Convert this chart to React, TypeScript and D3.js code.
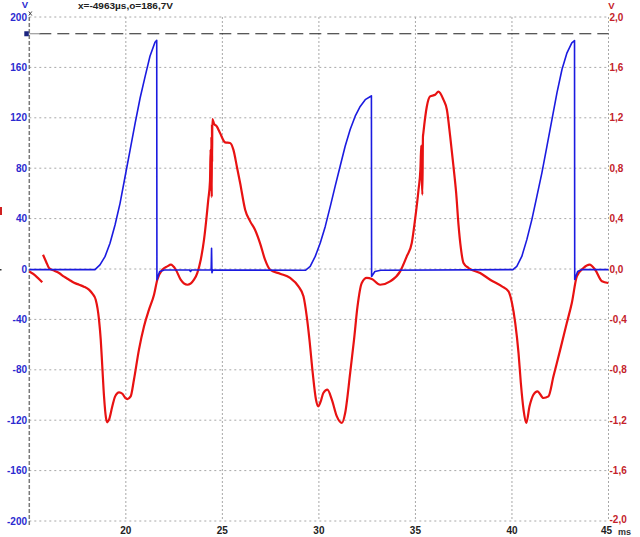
import React from "react";
import * as d3 from "d3";

// Time axis (ms) and axis ticks
const xTicks = [20, 25, 30, 35, 40, 45];
const leftTicks = [-200, -160, -120, -80, -40, 0, 40, 80, 120, 160, 200];
const rightTicks = [-2, -1.6, -1.2, -0.8, -0.4, 0, 0.4, 0.8, 1.2, 1.6, 2];
const cursorValue = 186.7;
const titleText = "x=-4963µs,o=186,7V";

// Blue channel (left axis, V): [t ms, V]
const blueSeries: [number, number][] = [
  [15, -0.5], [18.4, -0.5], [18.66, 3.3], [18.92, 9.8], [19.18, 20.4], [19.44, 34.9],
  [19.7, 52.1], [19.96, 73.2], [20.22, 94.4], [20.48, 115.6], [20.74, 135.7], [21.0, 152.9],
  [21.25, 168.8], [21.51, 180], [21.6, 181.5], [21.61, -8.5], [21.75, -2], [22.0, -0.8],
  [23.3, -0.8], [23.35, -2], [23.4, -0.8], [24.42, -0.8], [24.44, 16.5], [24.46, -3], [24.5, -0.8],
  [29.3, -1], [29.55, 2.0], [29.81, 10], [30.07, 20.6], [30.33, 33.8], [30.59, 49.7],
  [30.84, 65.6], [31.1, 81.5], [31.36, 97.4], [31.62, 110.7], [31.88, 121.3], [32.14, 129],
  [32.4, 134.4], [32.69, 137.1], [32.72, 137.5], [32.73, -6], [32.9, -2], [33.2, -1],
  [40.05, -0.5], [40.25, 2], [40.51, 10], [40.77, 23.3], [41.03, 39.2], [41.29, 57.7],
  [41.55, 76.3], [41.81, 97.4], [42.07, 118.6], [42.33, 139.8], [42.59, 158.3], [42.85, 171.6],
  [43.1, 179.5], [43.24, 181.3], [43.25, -8.3], [43.4, -2], [43.6, -0.5], [45, -0.5],
];

// Red channel (right axis, V): [t ms, V]; null marks a gap in the trace
const redSeries: ([number, number] | null)[] = [
  [15.0, -0.02], [15.3, -0.05], [15.67, -0.106],
  null,
  [15.71, 0.113], [15.87, 0.058], [16.02, 0.008], [16.28, -0.013], [16.54, -0.032], [16.8, -0.061],
  [17.06, -0.085], [17.32, -0.109], [17.58, -0.125], [17.83, -0.14], [18.09, -0.164], [18.27, -0.196],
  [18.44, -0.244], [18.61, -0.402], [18.7, -0.561], [18.78, -0.772], [18.87, -1.01], [18.97, -1.18],
  [19.04, -1.217], [19.13, -1.196], [19.3, -1.09], [19.44, -1.013], [19.65, -0.979], [19.82, -0.99],
  [19.96, -1.021], [20.08, -1.032], [20.25, -1.011], [20.42, -0.879], [20.68, -0.64], [20.94, -0.456],
  [21.2, -0.323], [21.46, -0.204], [21.63, -0.085], [21.89, -0.006], [22.15, 0.021], [22.33, 0.034],
  [22.59, -0.006], [22.84, -0.085], [23.19, -0.125], [23.53, -0.085], [23.7, -0.032], [23.88, 0.074],
  [24.05, 0.233], [24.27, 0.55], [24.36, 0.7], [24.39, 0.95], [24.41, 0.62], [24.43, 1.05],
  [24.45, 0.57], [24.46, 1.15], [24.47, 0.85], [24.48, 1.19], [24.57, 1.153], [24.71, 1.132],
  [24.88, 1.079], [25.14, 1.005], [25.4, 1.0], [25.57, 0.947], [25.75, 0.814], [25.92, 0.683],
  [26.18, 0.471], [26.44, 0.378], [26.69, 0.312], [26.95, 0.206], [27.21, 0.074], [27.47, -0.006],
  [27.99, -0.037], [28.51, -0.071], [28.94, -0.138], [29.2, -0.217], [29.37, -0.376], [29.51, -0.56],
  [29.68, -0.825], [29.85, -1.037], [29.97, -1.09], [30.09, -1.053], [30.23, -0.984], [30.44, -0.958],
  [30.67, -1.037], [30.93, -1.17], [31.19, -1.222], [31.36, -1.143], [31.62, -0.825], [31.82, -0.56],
  [32.0, -0.297], [32.22, -0.111], [32.48, -0.071], [32.74, -0.079], [33.17, -0.125], [33.69, -0.098],
  [34.21, -0.019], [34.55, 0.1], [34.81, 0.206], [34.98, 0.391], [35.16, 0.629], [35.26, 0.8],
  [35.3, 0.98], [35.33, 0.72], [35.36, 0.59], [35.39, 1.05], [35.41, 1.079], [35.59, 1.29],
  [35.76, 1.37], [36.02, 1.383], [36.19, 1.407], [36.45, 1.344], [36.63, 1.264], [36.8, 1.052],
  [36.97, 0.814], [37.11, 0.603], [37.23, 0.352], [37.35, 0.169], [37.49, 0.048], [37.75, 0.008],
  [38.35, -0.032], [38.87, -0.085], [39.48, -0.138], [39.82, -0.178], [40.0, -0.27], [40.17, -0.429],
  [40.34, -0.667], [40.46, -0.905], [40.6, -1.117], [40.74, -1.222], [40.91, -1.09], [41.11, -0.998],
  [41.32, -0.971], [41.63, -1.024], [41.89, -1.011], [42.15, -0.852], [42.5, -0.64], [42.84, -0.429],
  [43.1, -0.27], [43.36, -0.059], [43.7, 0.008], [44.02, 0.034], [44.31, -0.006], [44.66, -0.098],
  [44.99, -0.111],
];

const W = 640;
const H = 537;
const FONT = "'Liberation Sans', Arial, sans-serif";

export default function App() {
  const x = d3.scaleLinear().domain([15, 45]).range([29.3, 608.5]);
  const yL = d3.scaleLinear().domain([-200, 200]).range([521, 17]);
  const yR = d3.scaleLinear().domain([-2, 2]).range([521, 17]);

  const blueLine = d3
    .line<[number, number]>()
    .x((d) => x(d[0]))
    .y((d) => yL(d[1]));

  const redLine = d3
    .line<[number, number] | null>()
    .defined((d) => d !== null)
    .x((d) => x((d as [number, number])[0]))
    .y((d) => yR((d as [number, number])[1]))
    .curve(d3.curveMonotoneX);

  const [x0, x1] = x.range();
  const yTop = yL(200);
  const yBot = yL(-200);
  const fmtR = (v: number) => d3.format(".1f")(v).replace(".", ",").replace("−", "-");
  const yCursor = yL(cursorValue);

  return (
    <svg
      width={W}
      height={H}
      style={{ position: "absolute", left: 0, top: 0, display: "block", background: "#fff" }}
    >
      {/* horizontal grid */}
      {leftTicks.map((t) => (
        <line key={"h" + t} x1={x0} x2={x1} y1={yL(t)} y2={yL(t)} stroke="#a8a8a8" strokeWidth={1} strokeDasharray="2,3" />
      ))}
      {/* vertical grid */}
      {xTicks.map((t) => (
        <line key={"v" + t} x1={x(t)} x2={x(t)} y1={yTop} y2={yBot} stroke="#a8a8a8" strokeWidth={1} strokeDasharray="2,2" />
      ))}
      {/* left axis */}
      <line x1={x0} x2={x0} y1={yTop} y2={yBot + 4} stroke="#7a7a7a" strokeWidth={1.5} strokeDasharray="4,2" />

      {/* cursor line */}
      <line x1={x0 + 10} x2={x1} y1={yCursor} y2={yCursor} stroke="#222" strokeWidth={1.2} strokeDasharray="12,6" />
      <line x1={x0} x2={x0 + 11} y1={yCursor} y2={yCursor} stroke="#888" strokeWidth={1} />
      <rect x={x0 - 5} y={yCursor - 2.5} width={4.5} height={5} fill="#1a237e" />
      <line x1={x0 - 0.5} x2={x0 + 2.5} y1={11.5} y2={15.5} stroke="#444" strokeWidth={1} />
      <line x1={x0 - 0.5} x2={x0 + 2.5} y1={15.5} y2={11.5} stroke="#444" strokeWidth={1} />

      {/* traces */}
      <path d={redLine(redSeries) || ""} fill="none" stroke="#e81212" strokeWidth={2.2} strokeLinejoin="round" />
      <path d={blueLine(blueSeries) || ""} fill="none" stroke="#1b1be0" strokeWidth={1.6} strokeLinejoin="round" />

      {/* left tick labels */}
      {leftTicks.map((t) => (
        <text key={"l" + t} x={27} y={yL(t)} dy="0.35em" textAnchor="end" fontFamily={FONT} fontWeight="bold" fontSize={10} fill="#2a2ad0">
          {String(t)}
        </text>
      ))}
      {/* right tick labels */}
      {rightTicks.map((t) => (
        <text key={"r" + t} x={609.5} y={yR(t) - (t === -2 ? 2 : 0)} dy="0.35em" textAnchor="start" fontFamily={FONT} fontWeight="bold" fontSize={10} fill="#c4222a">
          {fmtR(t)}
        </text>
      ))}
      {/* x tick labels */}
      {xTicks.map((t) => (
        <text key={"x" + t} x={x(t) - (t === 45 ? 2 : 0)} y={533.5} textAnchor="middle" fontFamily={FONT} fontWeight="bold" fontSize={10} fill="#222">
          {String(t)}
        </text>
      ))}
      <text x={618} y={535} fontFamily={FONT} fontWeight="bold" fontSize={9} fill="#333">ms</text>

      {/* unit labels */}
      <text x={25} y={8} textAnchor="middle" fontFamily={FONT} fontWeight="bold" fontSize={9.5} fill="#2a2ad0">V</text>
      <text x={611.5} y={9} textAnchor="middle" fontFamily={FONT} fontWeight="bold" fontSize={9.5} fill="#c4222a">V</text>

      {/* title */}
      <text x={78} y={8.5} fontFamily={FONT} fontWeight="bold" fontSize={9} fill="#222" textLength={95} lengthAdjust="spacingAndGlyphs">
        {titleText}
      </text>

      {/* clipped marks at left edge */}
      <rect x={0} y={207} width={2} height={8} fill="#d02020" />
      <rect x={0} y={269} width={1.5} height={1.5} fill="#333" />
    </svg>
  );
}
